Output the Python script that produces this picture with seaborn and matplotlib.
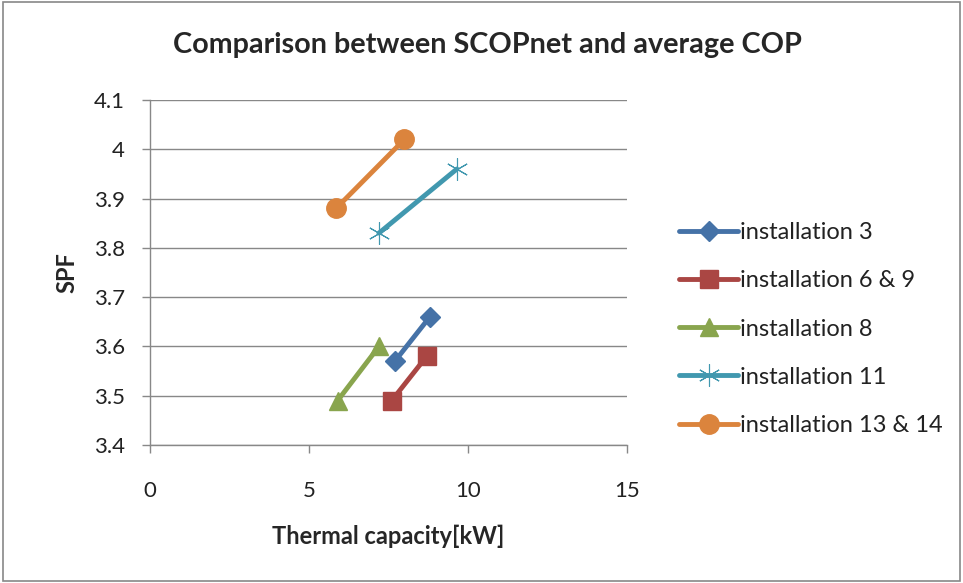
import matplotlib
matplotlib.use("Agg")
import matplotlib.pyplot as plt
import seaborn as sns
import pandas as pd
from matplotlib.patches import Rectangle

series = ["installation 3", "installation 6 & 9", "installation 8",
          "installation 11", "installation 13 & 14"]
x_vals = [[7.7, 8.8], [7.6, 8.7], [5.9, 7.2], [7.2, 9.65], [5.85, 8.0]]
y_vals = [[3.57, 3.66], [3.49, 3.58], [3.49, 3.60], [3.83, 3.96], [3.88, 4.02]]
colors = ["#4572A7", "#AA4643", "#89A54E", "#4198AF", "#DB843D"]
markers = ["D", "s", "^", (6, 2, 0), "o"]
msizes = [10, 13, 13, 16, 14]
x_ticks = [0, 5, 10, 15]
y_ticks = [3.4, 3.5, 3.6, 3.7, 3.8, 3.9, 4.0, 4.1]
y_ticklabels = ["3.4", "3.5", "3.6", "3.7", "3.8", "3.9", "4", "4.1"]

rows = []
for s, xs, ys in zip(series, x_vals, y_vals):
    for x, y in zip(xs, ys):
        rows.append({"series": s, "x": x, "y": y})
df = pd.DataFrame(rows)

sns.set_theme(style="white")
plt.rcParams["font.family"] = ["Lato", "DejaVu Sans"]

fig = plt.figure(figsize=(9.63, 5.83), dpi=100)
ax = fig.add_axes([150/963, 1-445/583, (627-150)/963, (445-100)/583])

for s, c, m, ms in zip(series, colors, markers, msizes):
    sub = df[df["series"] == s]
    mew = 0.8 if isinstance(m, tuple) else 1.0
    sns.lineplot(data=sub, x="x", y="y", ax=ax, color=c, marker=m,
                 markersize=ms, linewidth=3.5, label=s, markeredgecolor=c,
                 markeredgewidth=mew)

ax.set_xlim(0, 15)
ax.set_ylim(3.4, 4.1)
ax.set_xticks(x_ticks)
ax.set_yticks(y_ticks)
ax.set_yticklabels(y_ticklabels)
ax.tick_params(axis="both", labelsize=16, labelcolor="#222222", length=6,
               width=1, direction="out", left=True, bottom=True,
               color="#888888")
ax.tick_params(axis="x", pad=20)
ax.tick_params(axis="y", pad=12)
ax.yaxis.grid(True, color="#888888", linewidth=1)
ax.xaxis.grid(False)
for side in ["top", "right"]:
    ax.spines[side].set_visible(False)
for side in ["left", "bottom"]:
    ax.spines[side].set_color("#888888")
    ax.spines[side].set_linewidth(1)

ax.set_xlabel("Thermal capacity[kW]", fontsize=17, fontweight="bold", labelpad=17)
ax.set_ylabel("SPF", fontsize=17, fontweight="bold", labelpad=11)
fig.text(0.506, 1-45/583, "Comparison between SCOPnet and average COP",
         ha="center", va="center", fontsize=20.7, fontweight="bold")

leg = ax.legend(loc="center left", bbox_to_anchor=(679/963, 1-329/583),
                bbox_transform=fig.transFigure, frameon=False, fontsize=17,
                handlelength=2.5, handletextpad=0.1, labelspacing=1.15,
                borderpad=0, borderaxespad=0)
for t in leg.get_texts():
    t.set_color("#222222")

fig.patches.append(Rectangle((0.003, 0.003), 0.994, 0.994, transform=fig.transFigure,
                             fill=False, edgecolor="#888888", linewidth=1.2))

fig.savefig("out.png", dpi=100)
